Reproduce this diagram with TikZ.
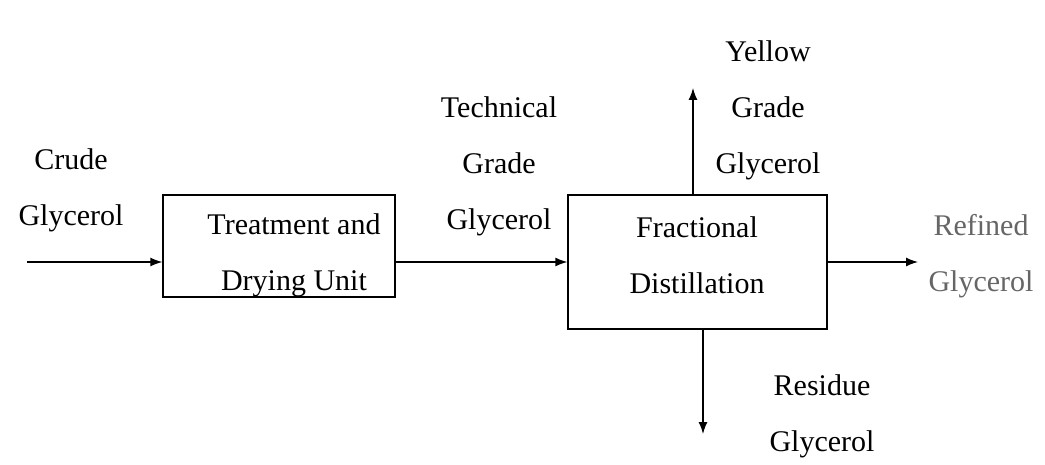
\documentclass[tikz,border=0pt]{standalone}
\usepackage{fontspec}
\setmainfont{Liberation Serif}
\usetikzlibrary{arrows.meta}
\begin{document}
\begin{tikzpicture}[x=1pt, y=-1pt, line width=1.3pt,
  every node/.style={font=\fontsize{30}{56}\selectfont, align=center, inner sep=0pt},
  unit/.style={draw, minimum width=232pt, minimum height=102pt},
  flow/.style={-{Latex[length=12pt,width=9pt]}}]
\useasboundingbox (0,0) rectangle (1045,465);

\node[unit] (treat) at (279,246) {};
\node[unit, minimum width=259pt, minimum height=134pt] (frac) at (697.5,262) {};

\coordinate (feed) at (27,262);
\coordinate (refined) at (918,262);
\coordinate (yellow) at (693,88);
\coordinate (residue) at (703,434);

\node (treattxt) at (294,255) {Treatment and\\Drying Unit};
\node (fractxt) at (697,255) {Fractional\\Distillation};

\node (crude) at (71,190) {Crude\\Glycerol};
\node (technical) at (499,166) {Technical\\Grade\\Glycerol};
\node (yellowtxt) at (768,110) {Yellow\\Grade\\Glycerol};
\node[text=black!60] (refinedtxt) at (981,256) {Refined\\Glycerol};
\node (residuetxt) at (822,416) {Residue\\Glycerol};

\draw[flow] (feed) -- (feed -| treat.west);
\draw[flow] (treat.east |- frac.west) -- (frac.west);
\draw[flow] (frac.east) -- (refined);
\draw[flow] (frac.north -| yellow) -- (yellow);
\draw[flow] (frac.south -| residue) -- (residue);
\end{tikzpicture}
\end{document}
